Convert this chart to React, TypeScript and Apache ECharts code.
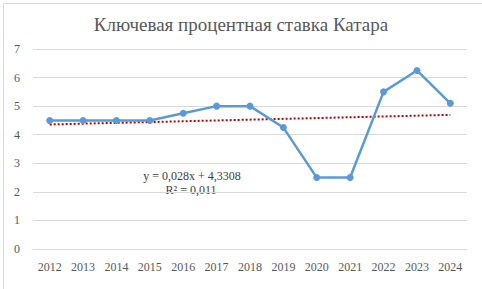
import React, { useEffect, useRef } from "react";
import * as echarts from "echarts";

const years = ["2012", "2013", "2014", "2015", "2016", "2017", "2018", "2019", "2020", "2021", "2022", "2023", "2024"];
const rates = [4.5, 4.5, 4.5, 4.5, 4.75, 5.0, 5.0, 4.25, 2.5, 2.5, 5.5, 6.25, 5.1];
const trendSlope = 0.028;
const trendIntercept = 4.3308;
const equationLines = ["y = 0,028x + 4,3308", "R² = 0,011"];
const titleText = "Ключевая процентная ставка Катара";

const FONT = "'Liberation Serif', 'Times New Roman', serif";

export default function App() {
  const ref = useRef<HTMLDivElement>(null);
  useEffect(() => {
    if (!ref.current) return;
    const chart = echarts.init(ref.current, null, { renderer: "svg" });
    const n = years.length;
    chart.setOption({
      animation: false,
      backgroundColor: "#ffffff",
      title: {
        text: titleText,
        left: "center",
        top: 10,
        textStyle: { fontFamily: FONT, fontSize: 19, fontWeight: "normal", color: "#595959" },
      },
      grid: { left: 33, right: 15, top: 49, bottom: 40, containLabel: false },
      xAxis: {
        type: "category",
        data: years,
        boundaryGap: true,
        axisLine: { show: true, lineStyle: { color: "#D9D9D9", width: 1 } },
        axisTick: { show: false },
        axisLabel: { fontFamily: FONT, fontSize: 12, color: "#595959", margin: 12 },
      },
      yAxis: {
        type: "value",
        min: 0,
        max: 7,
        interval: 1,
        axisLine: { show: false },
        axisTick: { show: false },
        splitLine: { lineStyle: { color: "#D9D9D9", width: 1 } },
        axisLabel: { fontFamily: FONT, fontSize: 12, color: "#595959", margin: 13 },
      },
      graphic: [
        {
          type: "rect",
          left: 1,
          top: 1,
          shape: { width: 479, height: 286 },
          style: { fill: "none", stroke: "#D9D9D9", lineWidth: 1 },
          silent: true,
        },
        {
          type: "text",
          x: 192,
          y: 176,
          style: {
            text: equationLines[0],
            fontFamily: FONT,
            fontSize: 12,
            fill: "#404040",
            align: "center",
            verticalAlign: "middle",
          },
        },
        {
          type: "text",
          x: 191,
          y: 190,
          style: {
            text: equationLines[1],
            fontFamily: FONT,
            fontSize: 12,
            fill: "#404040",
            align: "center",
            verticalAlign: "middle",
          },
        },
      ],
      series: [
        {
          type: "line",
          data: rates,
          symbol: "circle",
          symbolSize: 7,
          lineStyle: { color: "#5B9BD5", width: 2.5 },
          itemStyle: { color: "#5B9BD5" },
          z: 3,
          markLine: {
            silent: true,
            symbol: ["none", "none"],
            label: { show: false },
            lineStyle: { color: "#C00000", width: 2, type: [2, 2] },
            data: [
              [
                { coord: [0, trendIntercept + trendSlope * 1] },
                { coord: [n - 1, trendIntercept + trendSlope * n] },
              ],
            ],
            z: 2,
          },
        },
      ],
    });
    return () => chart.dispose();
  }, []);
  return (
    <div
      ref={ref}
      style={{ position: "fixed", left: 0, top: 0, width: 482, height: 289 }}
    />
  );
}
